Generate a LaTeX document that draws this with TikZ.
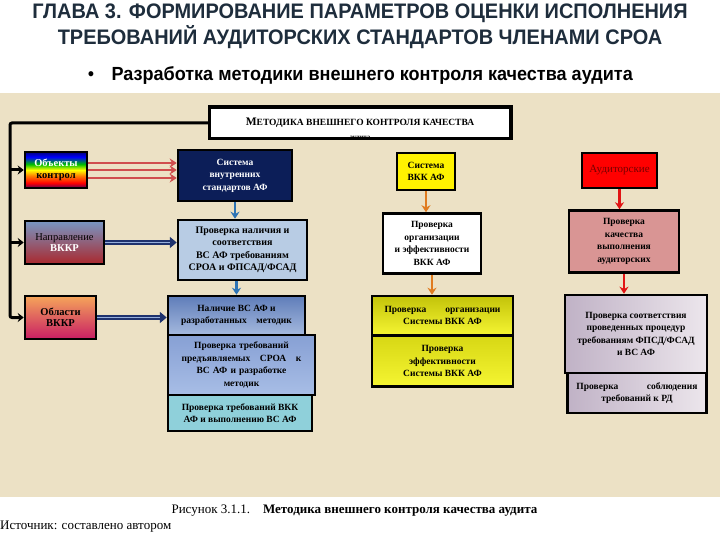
\documentclass[tikz,border=0pt]{standalone}
\usepackage{fontspec}
\setmainfont{Liberation Serif}
\newfontfamily\headfont[FakeStretch=0.95]{Liberation Sans}
\newfontfamily\subfont[FakeStretch=0.95]{Liberation Sans}
\usetikzlibrary{arrows.meta,calc}

\definecolor{parch}{RGB}{236,225,197}
\definecolor{headcol}{RGB}{30,45,60}
\definecolor{navybox}{RGB}{12,30,88}
\definecolor{nalbox}{RGB}{184,204,228}
\definecolor{tealbox}{RGB}{143,208,218}
\definecolor{pinkbox}{RGB}{217,149,148}
\definecolor{bluearr}{RGB}{46,116,181}
\definecolor{orangearr}{RGB}{224,123,32}
\definecolor{redarr}{RGB}{225,20,20}
\definecolor{salmon}{RGB}{208,78,78}
\definecolor{dblue}{RGB}{30,50,110}
\definecolor{lblue}{RGB}{150,175,220}

% rainbow fill of the first box
\pgfdeclareverticalshading{rainbowshade}{100bp}{color(0bp)=(violet!70!black); color(25bp)=(violet!70!black);
  color(32bp)=(red); color(42bp)=(orange); color(50bp)=(yellow); color(58bp)=(green!75!black);
  color(68bp)=(blue); color(75bp)=(blue!50!black); color(100bp)=(blue!50!black)}

\tikzset{
  blk/.style={draw=black, line width=2.5pt, align=center, inner sep=2pt,
    font=\bfseries\fontsize{9.5}{12.5}\selectfont},
  leftblk/.style={blk, font=\bfseries\fontsize{10.5}{11.5}\selectfont},
  bararr/.style={line width=3pt, -{Stealth[length=6pt,width=9pt]}},
  salarr/.style={salmon, line width=2.5pt, -{Stealth[length=7pt,width=9pt]}},
  colarr/.style={#1, line width=2.5pt, -{Stealth[length=7pt,width=9pt]}},
  dblout/.style={dblue, line width=5pt, -{Triangle[length=7pt,width=11pt]}},
  dblin/.style={lblue, line width=1.8pt, shorten >=7pt},
}

\begin{document}
\begin{tikzpicture}[x=1pt,y=-1pt]
\useasboundingbox (0,0) rectangle (720,540);
\fill[white] (0,0) rectangle (720,540);
\fill[parch] (0,93) rectangle (720,497);

% headings
\node[text=headcol, font=\headfont\bfseries\fontsize{21}{26}\selectfont, align=center] (head) at (360,26)
  {ГЛАВА 3. ФОРМИРОВАНИЕ ПАРАМЕТРОВ ОЦЕНКИ ИСПОЛНЕНИЯ\\ТРЕБОВАНИЙ АУДИТОРСКИХ СТАНДАРТОВ ЧЛЕНАМИ СРОА};
\node[font=\subfont\fontsize{19}{22}\selectfont] (bul) at (91,76) {•};
\node[anchor=west, font=\subfont\bfseries\fontsize{19}{22}\selectfont] (sub) at (108,76)
  {Разработка методики внешнего контроля качества аудита};

% title box
\node[blk, fill=white, minimum width=300pt, minimum height=30pt, font=\bfseries\fontsize{9.5}{12}\selectfont] (top) at (360,123)
  {{\fontsize{11.5}{12}\selectfont М}ЕТОДИКА ВНЕШНЕГО КОНТРОЛЯ КАЧЕСТВА};
\begin{scope}
  \clip (top.south west) rectangle (top.north east);
  \node[font=\bfseries\fontsize{7}{8}\selectfont] (topcut) at ($(top.south)+(0,-1)$) {аудита};
\end{scope}
\draw[line width=2.5pt] (top.south west) rectangle (top.north east);

% left column
\node[leftblk, shading=rainbowshade, minimum width=62pt, minimum height=36pt] (obj) at (56,170)
  {\textcolor{white}{Объекты}\\контрол};
\node[leftblk, top color={rgb,255:red,120;green,150;blue,195}, middle color=white,
  bottom color={rgb,255:red,170;green,40;blue,45}, minimum width=79pt, minimum height=43pt] (napr) at (64.5,242.5)
  {\mdseries Направление\\\textcolor{white}{ВККР}};
\node[leftblk, top color={rgb,255:red,245;green,165;blue,90}, middle color={rgb,255:red,245;green,215;blue,215},
  bottom color={rgb,255:red,200;green,30;blue,100}, minimum width=71pt, minimum height=43pt] (obl) at (60.5,317.5)
  {Области\\ВККР};

% blue column
\node[blk, fill=navybox, text=white, minimum width=114pt, minimum height=51pt] (sys) at (235,175.5)
  {Система\\внутренних\\стандартов АФ};
\node[blk, fill=nalbox, minimum width=129pt, minimum height=60pt,
  font=\bfseries\fontsize{10}{12.5}\selectfont] (nal) at (242.5,250)
  {Проверка наличия и\\соответствия\\ВС АФ требованиям\\СРОА и ФПСАД/ФСАД};
\node[blk, top color={rgb,255:red,95;green,125;blue,185}, bottom color={rgb,255:red,165;green,185;blue,222},
  minimum width=137pt, minimum height=39pt] (vsaf) at (236.5,315.5)
  {Наличие ВС АФ и\\разработанных\quad методик};
\node[blk, top color={rgb,255:red,135;green,160;blue,212}, bottom color={rgb,255:red,168;green,190;blue,230},
  minimum width=147pt, minimum height=60pt, text width=140pt] (treb) at (241.5,365)
  {Проверка требований\\предъявляемых\quad СРОА\quad к\\ВС АФ и разработке\\методик};
\node[blk, fill=tealbox, minimum width=144pt, minimum height=36pt] (vkkaf) at (240,413)
  {Проверка требований ВКК\\АФ и выполнению ВС АФ};

% yellow column
\node[blk, fill=yellow, minimum width=58pt, minimum height=37pt] (vkk) at (426,171.5)
  {Система\\ВКК АФ};
\node[blk, fill=white, minimum width=98pt, minimum height=60pt] (orgef) at (432,243.5)
  {Проверка\\организации\\и эффективности\\ВКК АФ};
\node[blk, top color={rgb,255:red,195;green,195;blue,10}, bottom color={rgb,255:red,245;green,245;blue,50},
  minimum width=141pt, minimum height=39pt] (orgs) at (442.5,315.5)
  {Проверка\qquad организации\\Системы ВКК АФ};
\node[blk, top color={rgb,255:red,215;green,215;blue,20}, bottom color={rgb,255:red,245;green,245;blue,50},
  minimum width=141pt, minimum height=51pt] (effs) at (442.5,361)
  {Проверка\\эффективности\\Системы ВКК АФ};

% red column
\node[blk, fill=red, text={rgb,255:red,120;green,0;blue,0}, minimum width=75pt, minimum height=35pt,
  font=\mdseries\fontsize{11}{12}\selectfont] (aud) at (619.5,170.5) {Аудиторские};
\node[blk, fill=pinkbox, minimum width=110pt, minimum height=62pt] (kach) at (624,241.5)
  {Проверка\\качества\\выполнения\\аудиторских};
\node[blk, left color={rgb,255:red,192;green,178;blue,198}, right color={rgb,255:red,236;green,230;blue,236},
  minimum width=142pt, minimum height=78pt] (sootv) at (636,334)
  {Проверка соответствия\\проведенных процедур\\требованиям ФПСД/ФСАД\\и ВС АФ};
\node[blk, left color={rgb,255:red,192;green,178;blue,198}, right color={rgb,255:red,236;green,230;blue,236},
  minimum width=139pt, minimum height=40pt] (rd) at (637,393)
  {Проверка\qquad\quad соблюдения\\требований к РД};

% bracket on the left
\coordinate (lx) at (10,0);
\draw[bararr, rounded corners=2pt] (top.west) -- (top.west -| lx) |- (obl.west);
\draw[bararr] (obj.west -| lx) -- (obj.west);
\draw[bararr] (napr.west -| lx) -- (napr.west);

% links from the left boxes
\draw[salarr] ([yshift=7pt]obj.east) -- ([yshift=7pt]obj.east -| sys.west);
\draw[salarr] (obj.east) -- (obj.east -| sys.west);
\draw[salarr] ([yshift=-8pt]obj.east) -- ([yshift=-8pt]obj.east -| sys.west);
\draw[dblout] (napr.east) -- (napr.east -| nal.west);
\draw[dblin] (napr.east) -- (napr.east -| nal.west);
\draw[dblout] (obl.east) -- (obl.east -| vsaf.west);
\draw[dblin] (obl.east) -- (obl.east -| vsaf.west);

% column arrows
\draw[colarr=bluearr] (sys.south) -- (sys.south |- nal.north);
\draw[colarr=bluearr] (vsaf.north |- nal.south) -- (vsaf.north);
\draw[colarr=orangearr] (vkk.south) -- (vkk.south |- orgef.north);
\draw[colarr=orangearr] (orgef.south) -- (orgef.south |- orgs.north);
\draw[colarr=redarr] (aud.south) -- (aud.south |- kach.north);
\draw[colarr=redarr] (kach.south) -- (kach.south |- sootv.north);

% caption
\node[anchor=west, font=\fontsize{13}{15}\selectfont] (cap) at (168,511)
  {Рисунок 3.1.1.\quad \textbf{Методика внешнего контроля качества аудита}};
\node[anchor=west, inner sep=0pt, font=\fontsize{13}{15}\selectfont] (src) at (0,527)
  {Источник: составлено автором};
\end{tikzpicture}
\end{document}
